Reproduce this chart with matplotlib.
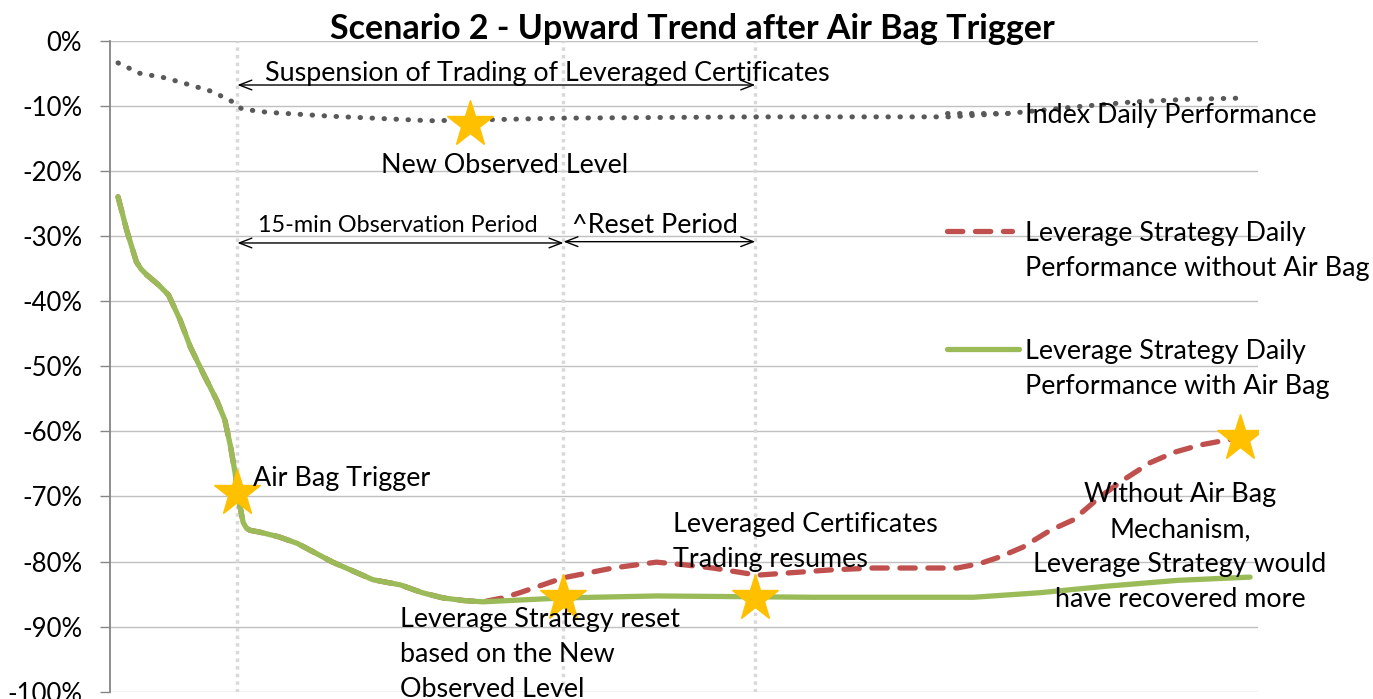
import matplotlib
matplotlib.use("Agg")
import matplotlib.pyplot as plt
import numpy as np

plt.rcParams['font.family'] = ['Lato', 'DejaVu Sans']

# time axis runs 0..100 across the plot (intraday steps)
idx_x = [0.7, 2.6, 4.8, 6.8, 8.9, 10.7, 11.5, 13.7, 19.2, 27.9, 34.0, 39.2,
         56.2, 73.2, 78.7, 84.5, 89.1, 93.8, 99.0]
idx_y = [-3.3, -4.9, -5.6, -6.6, -7.7, -9.3, -10.4, -10.9, -11.5, -12.2, -12.0,
         -11.8, -11.6, -11.6, -11.0, -10.0, -9.3, -8.9, -8.7]

# common part (both strategies identical until reset)
common_x = [0.7, 1.1, 1.45, 1.9, 2.3, 2.7, 3.2, 4.2, 5.1, 6.1, 7.0, 8.1, 9.3,
            10.0, 10.5, 10.9, 11.3, 11.6, 11.9, 12.2, 13.1, 14.7, 16.3, 19.4,
            22.9, 25.3, 27.2, 29.0, 30.8, 32.5]
common_y = [-23.9, -26.6, -29.0, -31.6, -33.9, -35.0, -35.9, -37.4, -39.0,
            -42.8, -47.0, -51.0, -55.2, -58.2, -62.3, -66.4, -71.3, -74.0,
            -74.9, -75.2, -75.5, -76.2, -77.2, -80.1, -82.8, -83.6, -84.8,
            -85.6, -86.0, -86.2]

with_x = [36.0, 39.5, 47.6, 61.2, 75.2, 81.0, 86.8, 93.0, 99.3]
with_y = [-85.9, -85.6, -85.3, -85.5, -85.5, -84.8, -83.8, -82.9, -82.4]

without_x = [34.2, 35.7, 39.5, 43.8, 47.6, 50.0, 52.5, 56.4, 62.7, 66.5, 73.8,
             75.8, 77.5, 79.5, 81.9, 83.9, 86.2, 88.4, 90.6, 92.7, 94.9, 96.7,
             98.4]
without_y = [-85.6, -84.8, -82.5, -81.0, -80.1, -80.5, -81.0, -82.1, -81.3,
             -81.0, -81.0, -80.3, -79.3, -77.8, -75.2, -73.6, -70.1, -67.3,
             -64.8, -63.2, -62.1, -61.5, -61.0]

event_x = [11.1, 39.5, 56.2]           # trigger, reset, trading resumes
star_x = [11.1, 31.4, 39.5, 56.2, 98.4]
star_y = [-69.5, -12.7, -85.6, -85.6, -61.0]

yticks = list(range(0, -101, -10))

RED = '#C0504D'
GREEN = '#9BBB59'
GREY = '#595959'
FS = 19.4
LS = 1.5

fig = plt.figure(figsize=(13.73, 6.99), dpi=100)
ax = fig.add_axes([0.0801, 0.0107, 0.8362, 0.93])
ax.set_xlim(0, 100)
ax.set_ylim(-100, 0)

ax.set_yticks(yticks)
ax.set_yticklabels([f"{t}%" for t in yticks], fontsize=18.5)
ax.set_xticks([])
ax.tick_params(axis='y', length=7, width=1, color='#868686', pad=13)
ax.yaxis.grid(True, color='#c0c0c0', lw=1)
ax.set_axisbelow(True)
for s in ['top', 'right', 'bottom']:
    ax.spines[s].set_visible(False)
ax.spines['left'].set_color('#868686')
ax.spines['left'].set_linewidth(1.3)

for ex in event_x:
    ax.axvline(ex, color='#d9d9d9', lw=2.5, ls=(0, (1, 1.2)), zorder=1)

wx = common_x + with_x
wy = common_y + with_y
ox = common_x + without_x
oy = common_y + without_y

dots = (0, (0.1, 2.3))
dashes = (0, (2.9, 2.4))

ax.plot(idx_x, idx_y, color=GREY, lw=3.6, ls=dots,
        dash_capstyle='round', zorder=3)
ax.plot(ox, oy, color=RED, lw=3.8, ls=dashes, zorder=3,
        dash_capstyle='round')
ax.plot(wx, wy, color=GREEN, lw=3.8, zorder=4, solid_capstyle='round',
        solid_joinstyle='round')

ax.plot(star_x, star_y, ls='none', marker='*', ms=35, color='#FFC000',
        mec='#FFC000', zorder=5)

arr = dict(arrowstyle='<->,head_length=0.9,head_width=0.35', color='black',
           lw=1, shrinkA=0, shrinkB=0)
ax.annotate('', xy=(event_x[0], -6.7), xytext=(event_x[2], -6.7),
            arrowprops=arr)
ax.annotate('', xy=(event_x[0], -31.0), xytext=(event_x[1], -31.0),
            arrowprops=arr)
ax.annotate('', xy=(event_x[1], -30.8), xytext=(event_x[2], -30.8),
            arrowprops=arr)

ax.text(38.1, -5.0, 'Suspension of Trading of Leveraged Certificates',
        fontsize=FS, ha='center', va='center', zorder=6)
ax.text(25.1, -28.3, '15-min Observation Period', fontsize=16.8,
        ha='center', va='center', zorder=6)
ax.text(47.5, -28.3, '^Reset Period', fontsize=FS, ha='center',
        va='center', zorder=6)
ax.text(34.4, -19.1, 'New Observed Level', fontsize=FS, ha='center',
        va='center', zorder=6)
ax.text(12.5, -67.2, 'Air Bag Trigger', fontsize=FS, ha='left',
        va='center', zorder=6)
ax.text(49.0, -77.0, 'Leveraged Certificates\nTrading resumes', fontsize=FS,
        ha='left', va='center', linespacing=LS, zorder=6)
ax.text(25.3, -94.3, 'Leverage Strategy reset\nbased on the New\nObserved Level',
        fontsize=FS, ha='left', va='center', linespacing=LS, zorder=6)
ax.text(93.2, -77.8, 'Without Air Bag\nMechanism,\nLeverage Strategy would\n'
        'have recovered more', fontsize=FS, ha='center', va='center',
        linespacing=LS, zorder=6)

# legend drawn by hand, Excel style
ax.plot([72.9, 79.2], [-11.0, -11.0], color=GREY, lw=3.6, ls=dots,
        dash_capstyle='round', zorder=3)
ax.plot([72.9, 78.6], [-29.2, -29.2], color=RED, lw=3.8, ls=dashes,
        dash_capstyle='round', zorder=3)
ax.plot([72.9, 79.2], [-47.3, -47.3], color=GREEN, lw=3.8,
        solid_capstyle='round', zorder=3)
ax.text(79.7, -11.4, 'Index Daily Performance', fontsize=FS, ha='left',
        va='center', zorder=6)
ax.text(79.7, -32.2, 'Leverage Strategy Daily\nPerformance without Air Bag',
        fontsize=FS, ha='left', va='center', linespacing=LS, zorder=6)
ax.text(79.7, -50.4, 'Leverage Strategy Daily\nPerformance with Air Bag',
        fontsize=FS, ha='left', va='center', linespacing=LS, zorder=6)

fig.text(0.504, 0.958, 'Scenario 2 - Upward Trend after Air Bag Trigger',
         fontsize=24.5, fontweight='bold', ha='center', va='center')

fig.savefig('out.png', dpi=100)
